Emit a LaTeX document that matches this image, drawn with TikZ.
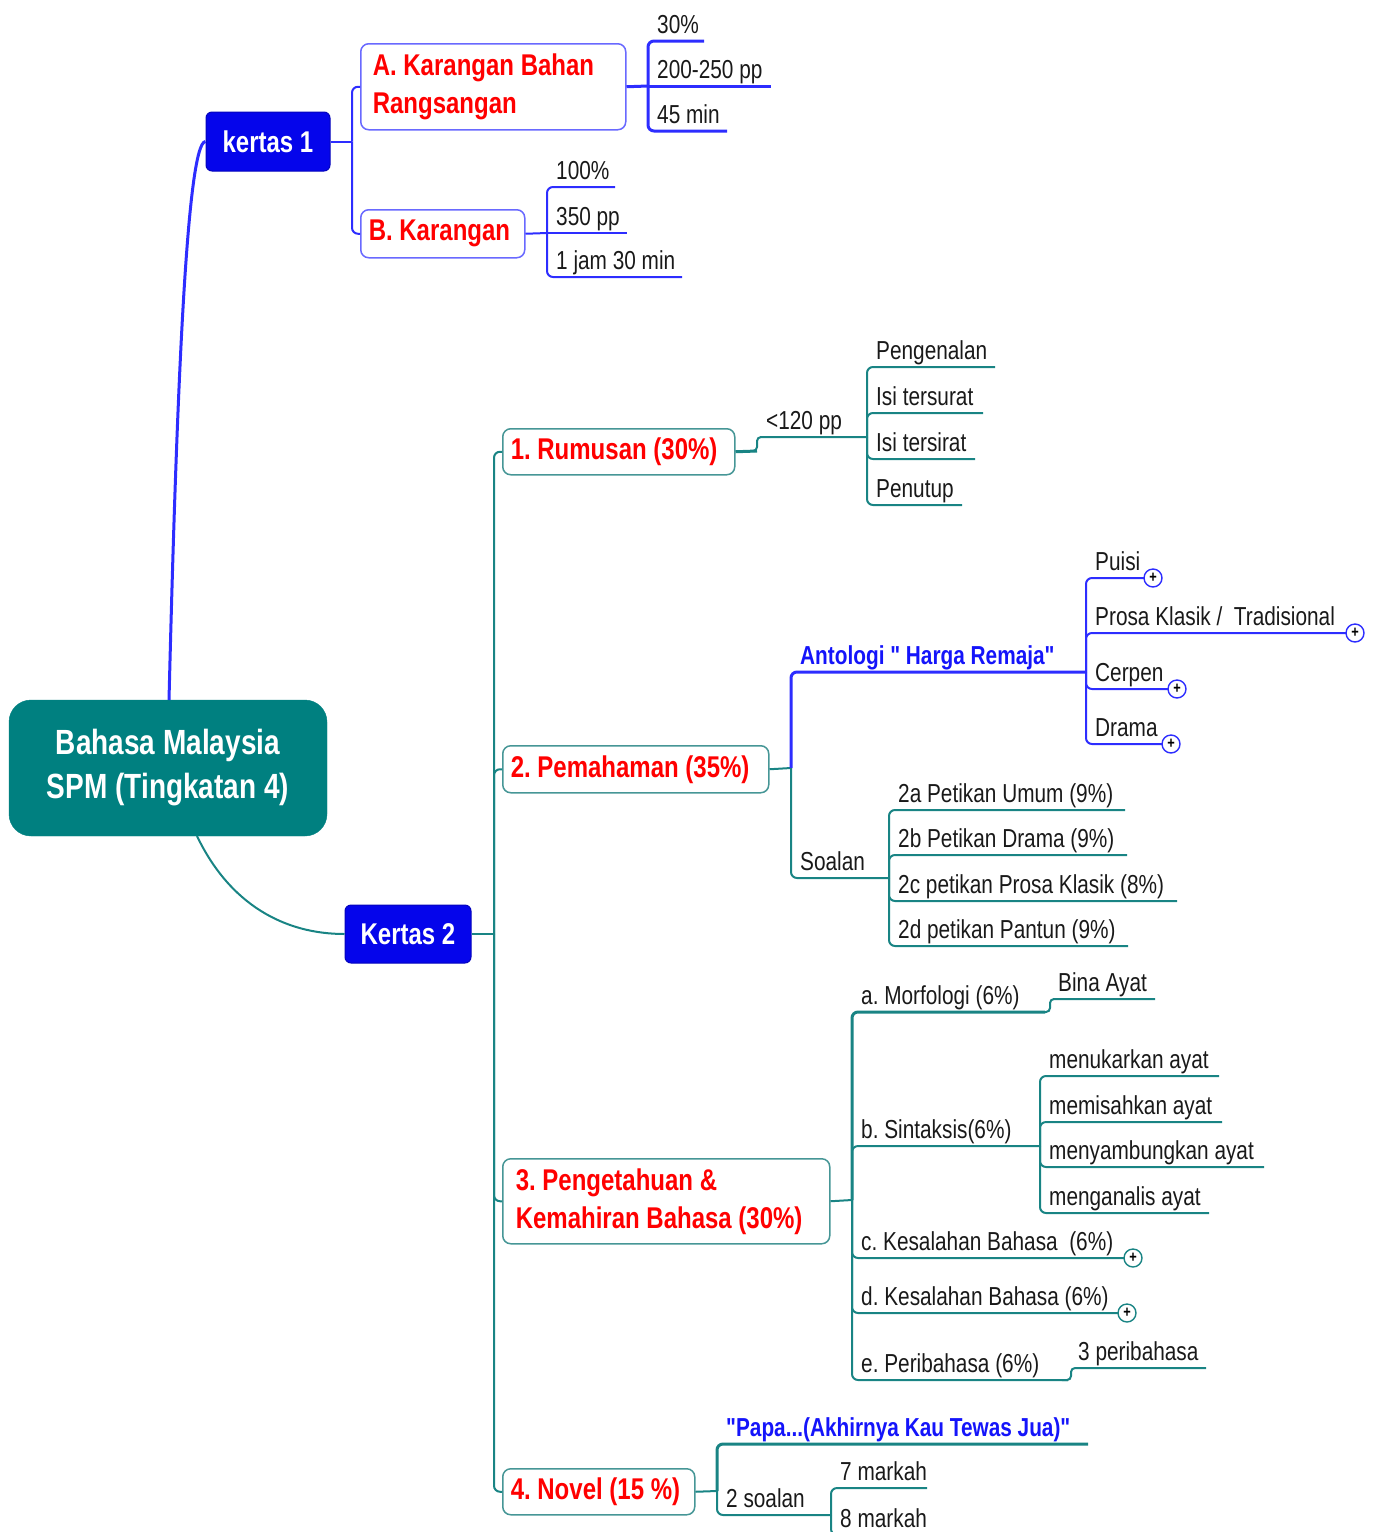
\documentclass[tikz,border=0pt]{standalone}
\usepackage{fontspec}
\setmainfont{Liberation Sans}[FakeStretch=0.8, Ligatures=TeXOff]
\definecolor{rootc}{RGB}{0,128,128}
\definecolor{kblue}{RGB}{5,5,235}
\definecolor{lblue}{RGB}{45,45,255}
\definecolor{bblue}{RGB}{105,105,255}
\definecolor{tline}{RGB}{25,132,132}
\definecolor{tbord}{RGB}{70,150,150}
\definecolor{txtblue}{RGB}{20,20,250}
\newcommand\fixsp{\spaceskip=\fontdimen2\font\relax}
\newcommand\leafc[8]{%
  \coordinate (#3e) at (#7,#6);
  \draw[#1] (#4) |- (#3e);
  \node[#2] (#3) at (#5+9,#6-8) {#8};}
\newcommand\leafs[8]{%
  \coordinate (#3e) at (#7,#6);
  \draw[#1] (#4) -- (#3e);
  \node[#2] (#3) at (#5+9,#6-8) {#8};}
\begin{document}
\frenchspacing
\begin{tikzpicture}[x=1pt,y=-1pt,
  rootbox/.style={fill=rootc, draw=rootc, rounded corners=22, text=white,
    font=\bfseries\fontsize{35}{44}\selectfont, align=center,
    minimum width=318, minimum height=136, inner sep=0},
  paper/.style={fill=kblue, draw=kblue!80!black, line width=1, rounded corners=6, text=white,
    font=\bfseries\fontsize{30}{36}\selectfont, inner sep=0},
  topic/.style={fill=white, rounded corners=8, line width=1.5, text=red,
    font=\bfseries\fontsize{30}{38}\selectfont, execute at begin node=\fixsp,
    align=left, inner xsep=8, inner ysep=0, anchor=north west},
  tb/.style={topic, draw=bblue},
  tt/.style={topic, draw=tbord},
  lt/.style={font=\fontsize{26}{30}\selectfont, text=black!90, anchor=base west, inner sep=0},
  bt/.style={font=\bfseries\fontsize{26}{30}\selectfont, text=txtblue, anchor=base west, inner sep=0},
  bln/.style={draw=lblue, line width=2, rounded corners=6},
  blk/.style={draw=lblue, line width=3, rounded corners=6},
  tln/.style={draw=tline, line width=2, rounded corners=6},
  tlk/.style={draw=tline, line width=3, rounded corners=6},
  plus/.style={circle, fill=white, line width=1.4, minimum size=18, inner sep=0,
    font=\bfseries\fontsize{16}{16}\selectfont}
]
\useasboundingbox (0,0) rectangle (1376,1532);
\clip (0,0) rectangle (1376,1532);

% ---------- main nodes
\node[rootbox] (root) at (168,768) {Bahasa Malaysia\\SPM (Tingkatan 4)};
\node[paper, minimum width=124, minimum height=59] (k1) at (268,141.5) {kertas 1};
\node[paper, minimum width=126, minimum height=58] (k2) at (408,934) {Kertas 2};

\draw[lblue, line width=3] (169,700) .. controls (176,420) and (186,142) .. (k1.west);
\draw[tline, line width=2] (197,836) .. controls (230,905) and (285,934) .. (k2.west);

% ---------- kertas 1
\node[tb, text width=249, minimum height=86] (A) at (360,43) {\hspace*{4pt}A. Karangan Bahan\\\hspace*{4pt}Rangsangan};
\node[tb, text width=148, minimum height=48] (B) at (360,209) {B. Karangan};
\coordinate (J1) at (352,141.5);
\draw[bln] (k1.east) -- (J1);
\draw[bln] (J1) |- (A.west);
\draw[bln] (J1) |- (B.west);

\coordinate (JA) at (648,86);
\draw[blk] (A.east) -- (JA);
\leafc{blk}{lt}{a30}{JA}{648}{41}{704}{30\%}
\leafs{blk}{lt}{a200}{JA}{648}{86}{771}{200-250 pp}
\leafc{blk}{lt}{a45}{JA}{648}{131}{727}{45 min}

\coordinate (JB) at (547,233);
\draw[bln] (B.east) -- (JB);
\leafc{bln}{lt}{b100}{JB}{547}{187}{615}{100\%}
\leafs{bln}{lt}{b350}{JB}{547}{233}{627}{350 pp}
\leafc{bln}{lt}{bjam}{JB}{547}{277}{682}{1 jam 30 min}

% ---------- kertas 2
\node[tt, text width=216, minimum height=46] (R) at (502,428) {1. Rumusan (30\%)};
\node[tt, text width=250, minimum height=47] (P) at (502,745) {2. Pemahaman (35\%)};
\node[tt, text width=311, minimum height=85] (K) at (502,1158) {\hspace*{5pt}3. Pengetahuan \&\\\hspace*{5pt}Kemahiran Bahasa (30\%)};
\node[tt, text width=176, minimum height=46] (N) at (502,1468) {4. Novel (15 \%)};
\coordinate (J2) at (494,934);
\draw[tln] (k2.east) -- (J2);
\draw[tln] (J2) |- (R.west);
\draw[tln] (J2) |- (P.west);
\draw[tln] (J2) |- (K.west);
\draw[tln] (J2) |- (N.west);

% Rumusan
\coordinate (JR) at (867,437);
\draw[tlk] (R.east) -- (757,451);
\draw[tln, rounded corners=4] (755,451) -- (757,451) -- (757,437) -- (JR);
\node[lt] (r120) at (766,429) {<120 pp};
\leafc{tln}{lt}{rp1}{JR}{867}{367}{995}{Pengenalan}
\leafc{tln}{lt}{rp2}{JR}{867}{413}{983}{Isi tersurat}
\leafc{tln}{lt}{rp3}{JR}{867}{459}{975}{Isi tersirat}
\leafc{tln}{lt}{rp4}{JR}{867}{505}{962}{Penutup}

% Pemahaman
\coordinate (JP) at (791,768);
\draw[tln] (P.east) -- (JP);
\leafc{blk}{bt}{ant}{JP}{791}{672}{1086}{Antologi " Harga Remaja"}
\leafc{tln}{lt}{soa}{JP}{791}{878}{889}{Soalan}

\coordinate (JAN) at (1086,672);
\leafc{bln}{lt}{pu}{JAN}{1086}{578}{1146}{Puisi}
\leafc{bln}{lt}{pr}{JAN}{1086}{633}{1347}{Prosa Klasik /\ \ Tradisional}
\leafc{bln}{lt}{ce}{JAN}{1086}{689}{1170}{Cerpen}
\leafc{bln}{lt}{dr}{JAN}{1086}{744}{1164}{Drama}
\node[plus, draw=lblue] (pup) at (1153,578) {+};
\node[plus, draw=lblue] (prp) at (1355,633) {+};
\node[plus, draw=lblue] (cep) at (1177,689) {+};
\node[plus, draw=lblue] (drp) at (1171,744) {+};

\coordinate (JSO) at (889,878);
\leafc{tln}{lt}{s2a}{JSO}{889}{810}{1125}{2a Petikan Umum (9\%)}
\leafc{tln}{lt}{s2b}{JSO}{889}{855}{1127}{2b Petikan Drama (9\%)}
\leafc{tln}{lt}{s2c}{JSO}{889}{901}{1177}{2c petikan Prosa Klasik (8\%)}
\leafc{tln}{lt}{s2d}{JSO}{889}{946}{1128}{2d petikan Pantun (9\%)}

% Pengetahuan
\coordinate (JK) at (852,1200);
\draw[tln] (K.east) -- (JK);
\leafc{tlk}{lt}{ka}{JK}{852}{1012}{1045}{a. Morfologi (6\%)}
\leafc{tln}{lt}{kb}{JK}{852}{1146}{1040}{b. Sintaksis(6\%)}
\leafc{tln}{lt}{kc}{JK}{852}{1258}{1126}{c. Kesalahan Bahasa\ \ (6\%)}
\leafc{tln}{lt}{kd}{JK}{852}{1313}{1120}{d. Kesalahan Bahasa (6\%)}
\leafc{tln}{lt}{ke}{JK}{852}{1380}{1068}{e. Peribahasa (6\%)}
\node[plus, draw=tline] (kcp) at (1133,1258) {+};
\node[plus, draw=tline] (kdp) at (1127,1313) {+};

\coordinate (bina) at (1155,999);
\draw[tln, rounded corners=4] (kae) -- (1050,1012) -- (1050,999) -- (bina);
\node[lt] (binat) at (1058,991) {Bina Ayat};
\coordinate (peri) at (1206,1368);
\draw[tln, rounded corners=4] (kee) -- (1071,1380) -- (1071,1368) -- (peri);
\node[lt] (perit) at (1078,1360) {3 peribahasa};

\coordinate (JS) at (1040,1146);
\leafc{tln}{lt}{m1}{JS}{1040}{1076}{1219}{menukarkan ayat}
\leafc{tln}{lt}{m2}{JS}{1040}{1122}{1222}{memisahkan ayat}
\leafc{tln}{lt}{m3}{JS}{1040}{1167}{1264}{menyambungkan ayat}
\leafc{tln}{lt}{m4}{JS}{1040}{1213}{1209}{menganalis ayat}

% Novel
\coordinate (JN) at (717,1491);
\draw[tln] (N.east) -- (JN);
\leafc{tlk}{bt}{pap}{JN}{717}{1444}{1088}{"Papa...(Akhirnya Kau Tewas Jua)"}
\leafc{tln}{lt}{dua}{JN}{717}{1515}{831}{2 soalan}
\coordinate (J2S) at (831,1515);
\leafc{tln}{lt}{mk7}{J2S}{831}{1488}{927}{7 markah}
\leafc{tln}{lt}{mk8}{J2S}{831}{1535}{927}{8 markah}
\end{tikzpicture}
\end{document}
